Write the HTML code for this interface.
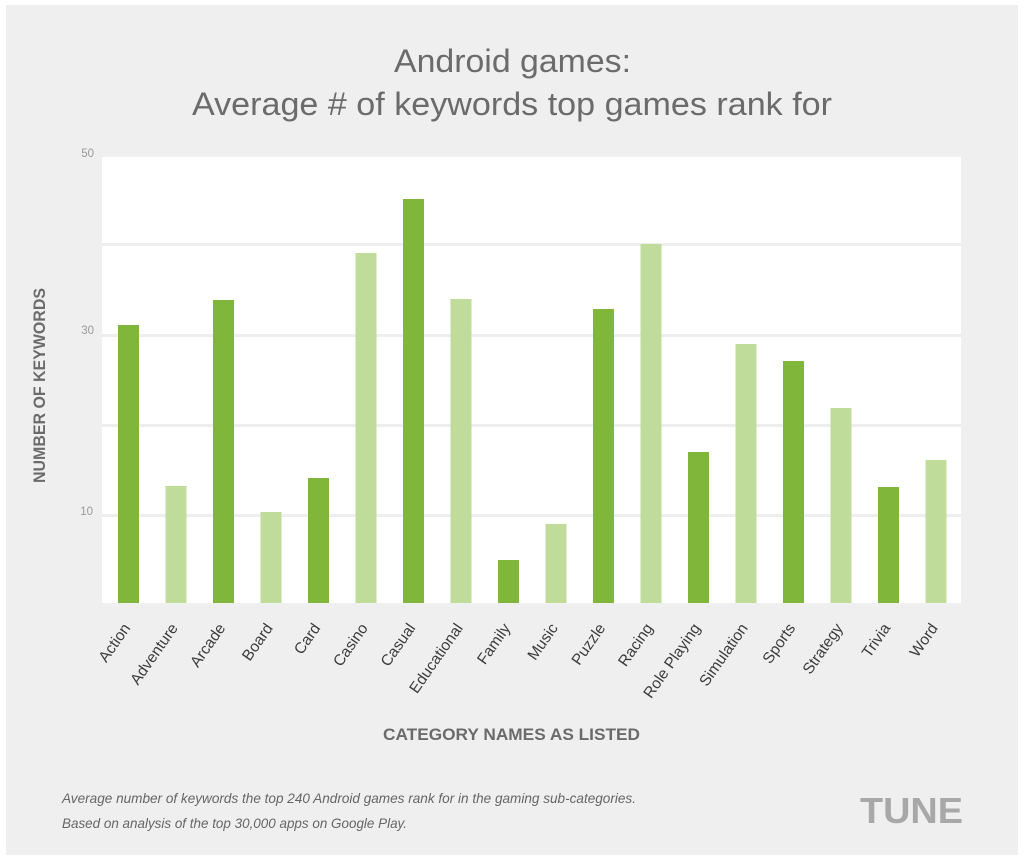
<!DOCTYPE html>
<html>
<head>
<meta charset="utf-8">
<style>
  html,body{margin:0;padding:0;background:#ffffff;}
  svg{display:block;}
  text{font-family:"Liberation Sans", sans-serif;}
</style>
</head>
<body>
<svg width="1024" height="863" viewBox="0 0 1024 863" xmlns="http://www.w3.org/2000/svg">
  <rect x="0" y="0" width="1024" height="863" fill="#ffffff"/>
  <rect x="6" y="5" width="1012" height="850" fill="#efefef"/>

  <!-- Title -->
  <text x="512.5" y="72" text-anchor="middle" font-size="32" fill="#6b6b6b" textLength="237" lengthAdjust="spacingAndGlyphs">Android games:</text>
  <text x="512" y="115" text-anchor="middle" font-size="32" fill="#6b6b6b" textLength="640" lengthAdjust="spacingAndGlyphs">Average # of keywords top games rank for</text>

  <!-- Plot area -->
  <rect x="102" y="157" width="859" height="446" fill="#ffffff"/>
  <g fill="#eeeeee">
    <rect x="102" y="243" width="859" height="3"/>
    <rect x="102" y="334" width="859" height="3"/>
    <rect x="102" y="424" width="859" height="3"/>
    <rect x="102" y="514" width="859" height="3"/>
  </g>

  <!-- Y tick labels -->
  <g font-size="11.5" fill="#9a9a9a" text-anchor="end">
    <text x="94" y="157">50</text>
    <text x="94" y="334">30</text>
    <text x="93" y="515">10</text>
  </g>

  <!-- Y axis title -->
  <text transform="translate(45,385.5) rotate(-90)" text-anchor="middle" font-size="17" font-weight="bold" fill="#6b6b6b" textLength="195" lengthAdjust="spacingAndGlyphs">NUMBER OF KEYWORDS</text>

  <!-- Bars -->
  <g>
    <rect x="118" y="325" width="21" height="278" fill="#80b63a"/>
    <rect x="165.5" y="486" width="21" height="117" fill="#c0dc9a"/>
    <rect x="213" y="300" width="21" height="303" fill="#80b63a"/>
    <rect x="260.5" y="512" width="21" height="91" fill="#c0dc9a"/>
    <rect x="308" y="478" width="21" height="125" fill="#80b63a"/>
    <rect x="355.5" y="253" width="21" height="350" fill="#c0dc9a"/>
    <rect x="403" y="199" width="21" height="404" fill="#80b63a"/>
    <rect x="450.5" y="299" width="21" height="304" fill="#c0dc9a"/>
    <rect x="498" y="560" width="21" height="43" fill="#80b63a"/>
    <rect x="545.5" y="524" width="21" height="79" fill="#c0dc9a"/>
    <rect x="593" y="309" width="21" height="294" fill="#80b63a"/>
    <rect x="640.5" y="244" width="21" height="359" fill="#c0dc9a"/>
    <rect x="688" y="452" width="21" height="151" fill="#80b63a"/>
    <rect x="735.5" y="344" width="21" height="259" fill="#c0dc9a"/>
    <rect x="783" y="361" width="21" height="242" fill="#80b63a"/>
    <rect x="830.5" y="408" width="21" height="195" fill="#c0dc9a"/>
    <rect x="878" y="487" width="21" height="116" fill="#80b63a"/>
    <rect x="925.5" y="460" width="21" height="143" fill="#c0dc9a"/>
  </g>

  <!-- X tick labels -->
  <g font-size="15.5" fill="#3c3c3c" text-anchor="end">
    <text transform="translate(131,628) rotate(-55)">Action</text>
    <text transform="translate(178.5,628) rotate(-55)">Adventure</text>
    <text transform="translate(226,628) rotate(-55)">Arcade</text>
    <text transform="translate(273.5,628) rotate(-55)">Board</text>
    <text transform="translate(321,628) rotate(-55)">Card</text>
    <text transform="translate(368.5,628) rotate(-55)">Casino</text>
    <text transform="translate(416,628) rotate(-55)">Casual</text>
    <text transform="translate(463.5,628) rotate(-55)">Educational</text>
    <text transform="translate(511,628) rotate(-55)">Family</text>
    <text transform="translate(558.5,628) rotate(-55)">Music</text>
    <text transform="translate(606,628) rotate(-55)">Puzzle</text>
    <text transform="translate(653.5,628) rotate(-55)">Racing</text>
    <text transform="translate(701,628) rotate(-55)">Role Playing</text>
    <text transform="translate(748.5,628) rotate(-55)">Simulation</text>
    <text transform="translate(796,628) rotate(-55)">Sports</text>
    <text transform="translate(843.5,628) rotate(-55)">Strategy</text>
    <text transform="translate(891,628) rotate(-55)">Trivia</text>
    <text transform="translate(938.5,628) rotate(-55)">Word</text>
  </g>

  <!-- X axis title -->
  <text x="383" y="740" font-size="16.5" font-weight="bold" fill="#6b6b6b" textLength="257" lengthAdjust="spacingAndGlyphs">CATEGORY NAMES AS LISTED</text>

  <!-- Footnote -->
  <g font-size="14" font-style="italic" fill="#666666">
    <text x="62" y="803" textLength="574" lengthAdjust="spacingAndGlyphs">Average number of keywords the top 240 Android games rank for in the gaming sub-categories.</text>
    <text x="62" y="828" textLength="345" lengthAdjust="spacingAndGlyphs">Based on analysis of the top 30,000 apps on Google Play.</text>
  </g>

  <!-- Logo -->
  <text x="860" y="823" font-size="36" font-weight="bold" fill="#a8a8a8" textLength="103" lengthAdjust="spacingAndGlyphs">TUNE</text>
</svg>
</body>
</html>
